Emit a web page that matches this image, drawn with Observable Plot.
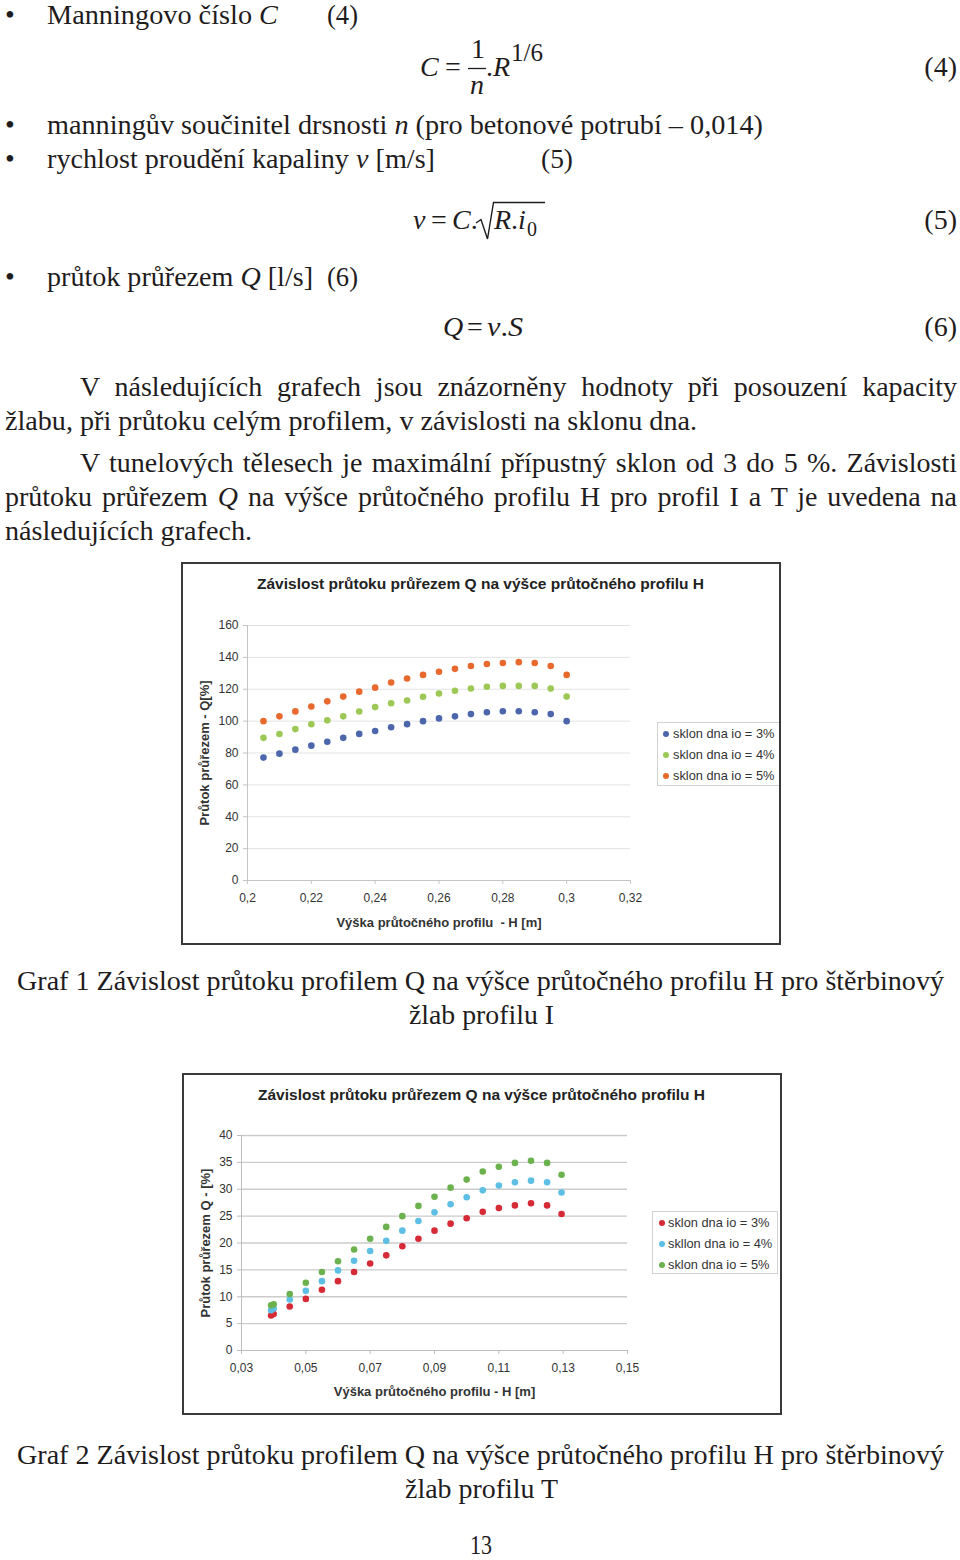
<!DOCTYPE html>
<html lang="cs">
<head>
<meta charset="utf-8">
<script src="https://cdn.jsdelivr.net/npm/d3@7"></script>
<script src="https://cdn.jsdelivr.net/npm/@observablehq/plot@0.6"></script>
<style>
html,body{margin:0;padding:0;background:#fff;}
#page{position:relative;width:960px;height:1560px;overflow:hidden;background:#fff;}
#text{position:absolute;left:0;top:0;}
.chart{position:absolute;}
.chart svg{display:block;overflow:visible;}
.frame{position:absolute;box-sizing:border-box;border:2px solid #3a3a3a;pointer-events:none;}
.ctitle{position:absolute;text-align:center;font:bold 15.5px "Liberation Sans",Arial,sans-serif;color:#222;white-space:pre;line-height:18px;}
.legend{position:absolute;box-sizing:border-box;border:1px solid #d2d2d2;background:#fff;font:12.8px "Liberation Sans",Arial,sans-serif;color:#333;}
.legend .lt{position:absolute;white-space:pre;line-height:16px;}
.legend .ld{position:absolute;width:6px;height:6px;border-radius:50%;}
[aria-label$="axis label"]{font-weight:bold;font-size:13px;}
</style>
</head>
<body>
<div id="page"></div>
<script>
// ---------------- data ----------------
// Graf 1 (profil I)
const h1 = [0.205,0.21,0.215,0.22,0.225,0.23,0.235,0.24,0.245,0.25,0.255,0.26,0.265,0.27,0.275,0.28,0.285,0.29,0.295,0.30];
const q1_3 = [77.1,79.6,82.1,84.6,87.1,89.5,92.0,93.8,96.2,98.1,100,101.7,103.0,104.4,105.6,106.2,106.2,105.6,104.4,100];
const q1_4 = [89.5,91.9,95.0,98.0,100.5,103.0,106.0,108.8,111.2,112.9,115.3,117.3,119.1,120.5,121.6,122.1,122.1,122.1,120.4,115.4];
const q1_5 = [100,103.0,106.1,109.2,112.4,115.4,118.5,121.0,124.2,126.7,129.0,131.0,132.8,134.6,135.8,136.5,137.0,136.5,134.6,129.0];
const series1 = ["sklon dna io = 3%","sklon dna io = 4%","sklon dna io = 5%"];
const colors1 = ["#4c66ab","#9cc955","#e8692d"];
const xTicks1 = [0.2,0.22,0.24,0.26,0.28,0.3,0.32];
const yTicks1 = [0,20,40,60,80,100,120,140,160];

// Graf 2 (profil T)
const h2 = [0.0392,0.04,0.045,0.05,0.055,0.06,0.065,0.07,0.075,0.08,0.085,0.09,0.095,0.10,0.105,0.11,0.115,0.12,0.125,0.1295];
const q2_3 = [6.5,6.8,8.2,9.6,11.3,12.9,14.6,16.2,17.7,19.4,20.8,22.3,23.6,24.6,25.8,26.5,27.0,27.4,27.0,25.4];
const q2_4 = [7.5,7.8,9.5,11.1,12.9,14.9,16.7,18.5,20.4,22.3,24.1,25.7,27.2,28.5,29.8,30.7,31.3,31.6,31.3,29.4];
const q2_5 = [8.4,8.6,10.5,12.6,14.6,16.6,18.8,20.8,23.0,25.0,26.9,28.6,30.3,31.8,33.3,34.2,34.9,35.3,34.9,32.7];
const series2 = ["sklon dna io = 3%","skllon dna io = 4%","sklon dna io = 5%"];
const colors2 = ["#d62a36","#5dbfe3","#6bb24f"];
const xTicks2 = [0.03,0.05,0.07,0.09,0.11,0.13,0.15];
const yTicks2 = [0,5,10,15,20,25,30,35,40];

const chartTitle = "Závislost průtoku průřezem Q na výšce průtočného profilu H";
const xLabel1 = "Výška průtočného profilu  - H [m]";
const yLabel1 = "Průtok průřezem - Q[%]";
const xLabel2 = "Výška průtočného profilu - H [m]";
const yLabel2 = "Průtok průřezem Q - [%]";

// ---------------- page text ----------------
const page = document.getElementById("page");
const NS = "http://www.w3.org/2000/svg";
const tsvg = document.createElementNS(NS, "svg");
tsvg.setAttribute("id", "text");
tsvg.setAttribute("width", 960);
tsvg.setAttribute("height", 1560);
page.appendChild(tsvg);
const SERIF = '"Liberation Serif","Times New Roman",serif';
const INK = "#1f1c1d";

function line(parts, x, y, opts = {}) {
  const t = document.createElementNS(NS, "text");
  t.setAttribute("x", x);
  t.setAttribute("y", y);
  t.setAttribute("font-family", SERIF);
  t.setAttribute("font-size", opts.size || 28);
  t.setAttribute("fill", INK);
  if (opts.anchor) t.setAttribute("text-anchor", opts.anchor);
  t.style.whiteSpace = "pre";
  if (typeof parts === "string") parts = [[parts]];
  for (const [s, st] of parts) {
    const ts = document.createElementNS(NS, "tspan");
    ts.textContent = s;
    if (st === "i") ts.setAttribute("font-style", "italic");
    t.appendChild(ts);
  }
  tsvg.appendChild(t);
  if (opts.w) {
    if (opts.justify) {
      const nat = t.getComputedTextLength();
      const n = (t.textContent.match(/ /g) || []).length;
      t.style.wordSpacing = ((opts.w - nat) / n) + "px";
    } else {
      t.setAttribute("textLength", opts.w);
      t.setAttribute("lengthAdjust", "spacingAndGlyphs");
    }
  }
  return t;
}
function path(d, sw) {
  const p = document.createElementNS(NS, "path");
  p.setAttribute("d", d);
  p.setAttribute("fill", "none");
  p.setAttribute("stroke", INK);
  p.setAttribute("stroke-width", sw || 1.3);
  tsvg.appendChild(p);
}

// bullets
for (const by of [24, 134, 168, 286]) line("•", 5, by);
line([["Manningovo číslo "], ["C", "i"]], 47, 24, {w: 231});
line("(4)", 327, 24, {w: 31});
// formula 4
line([["C", "i"]], 420, 76);
line("=", 445, 76);
line("1", 471, 58);
path("M468,68.5H486");
line([["n", "i"]], 470, 94);
line([["."], ["R", "i"]], 486, 76);
line("1/6", 511, 61, {size: 25});
line("(4)", 957, 76, {anchor: "end"});

line([["manningův součinitel drsnosti "], ["n", "i"], [" (pro betonové potrubí – 0,014)"]], 47, 134, {w: 716});
line([["rychlost proudění kapaliny "], ["v", "i"], [" [m/s]"]], 47, 168, {w: 388});
line("(5)", 541, 168, {w: 32});
// formula 5
line([["v", "i"]], 413, 229);
line("=", 431, 229);
line([["C", "i"], ["."]], 452, 229);
path("M476,223L481,219.5L487.5,239L493.5,202.5H545", 1.4);
line([["R", "i"], ["."], ["i", "i"]], 494, 229);
line("0", 527, 236, {size: 20});
line("(5)", 957, 229, {anchor: "end"});

line([["průtok průřezem "], ["Q", "i"], [" [l/s]"]], 47, 286, {w: 266});
line("(6)", 327, 286, {w: 31});
// formula 6
line([["Q", "i"]], 443, 336);
line("=", 467, 336);
line([["v", "i"], ["."], ["S", "i"]], 487, 336, {w: 36});
line("(6)", 957, 336, {anchor: "end"});

line("V následujících grafech jsou znázorněny hodnoty při posouzení kapacity", 80, 396, {w: 877, justify: true});
line("žlabu, při průtoku celým profilem, v závislosti na sklonu dna.", 5, 430, {w: 692});
line("V tunelových tělesech je maximální přípustný sklon od 3 do 5 %. Závislosti", 80, 472, {w: 877, justify: true});
line([["průtoku průřezem "], ["Q", "i"], [" na výšce průtočného profilu H pro profil I a T je uvedena na"]], 5, 506, {w: 952, justify: true});
line("následujících grafech.", 5, 540, {w: 247});

line("Graf 1 Závislost průtoku profilem Q na výšce průtočného profilu H pro štěrbinový", 17, 990, {w: 927});
line("žlab profilu I", 409, 1024, {w: 145});
line("Graf 2 Závislost průtoku profilem Q na výšce průtočného profilu H pro štěrbinový", 17, 1464, {w: 927});
line("žlab profilu T", 405, 1498, {w: 153});
line("13", 470, 1554, {w: 22, size: 27});

// ---------------- charts ----------------
const fmt = d => String(d).replace(".", ",");

function makeChart(cfg) {
  const data = cfg.names.flatMap((s, i) => cfg.h.map((x, j) => ({H: x, Q: cfg.ys[i][j], s})));
  const wrap = document.createElement("div");
  wrap.className = "chart";
  wrap.style.left = cfg.left + "px";
  wrap.style.top = cfg.top + "px";
  wrap.style.width = cfg.W + "px";
  wrap.style.height = cfg.H + "px";
  const svg = Plot.plot({
    width: cfg.W, height: cfg.H,
    marginLeft: cfg.m[3], marginRight: cfg.m[1], marginTop: cfg.m[0], marginBottom: cfg.m[2],
    style: {fontFamily: '"Liberation Sans", Arial, sans-serif', fontSize: "12px", background: "transparent", color: "#333"},
    x: {domain: cfg.xDomain},
    y: {domain: cfg.yDomain},
    color: {domain: cfg.names, range: cfg.colors},
    marks: [
      Plot.ruleY(cfg.yTicks.filter(d => d > 0), {stroke: cfg.grid, strokeWidth: cfg.gridW}),
      Plot.ruleX([cfg.xDomain[0]], {stroke: cfg.axis}),
      Plot.ruleY([0], {stroke: cfg.axis}),
      Plot.axisX({ticks: cfg.xTicks, tickFormat: fmt, tickSize: 4, tickPadding: 9, stroke: cfg.axis, fill: "#333",
        label: cfg.xLabel, labelAnchor: "center", labelOffset: cfg.xlo, labelArrow: "none"}),
      Plot.axisY({ticks: cfg.yTicks, tickSize: 4, tickPadding: 5, stroke: cfg.axis, fill: "#333",
        label: cfg.yLabel, labelAnchor: "center", labelOffset: cfg.ylo, labelArrow: "none"}),
      Plot.dot(data, {x: "H", y: "Q", fill: "s", r: 3.3})
    ]
  });
  wrap.appendChild(svg);
  const title = document.createElement("div");
  title.className = "ctitle";
  title.style.left = "0px";
  title.style.width = cfg.W + "px";
  title.style.top = (cfg.titleY - 9) + "px";
  title.textContent = chartTitle;
  wrap.appendChild(title);
  page.appendChild(wrap);

  const frame = document.createElement("div");
  frame.className = "frame";
  Object.assign(frame.style, {left: cfg.left + "px", top: cfg.top + "px", width: (cfg.W + 1) + "px", height: (cfg.H + 1) + "px"});

  const lg = document.createElement("div");
  lg.className = "legend";
  Object.assign(lg.style, {left: cfg.lg[0] + "px", top: cfg.lg[1] + "px", width: cfg.lg[2] + "px", height: cfg.lg[3] + "px"});
  cfg.names.forEach((s, i) => {
    const cy = 11 + i * 21;
    const d = document.createElement("div");
    d.className = "ld";
    d.style.background = cfg.colors[i];
    d.style.left = (cfg.dotX - 3) + "px";
    d.style.top = (cy - 3) + "px";
    lg.appendChild(d);
    const t = document.createElement("div");
    t.className = "lt";
    t.style.left = cfg.textX + "px";
    t.style.top = (cy - 8) + "px";
    t.textContent = s;
    lg.appendChild(t);
  });
  page.appendChild(lg);
  page.appendChild(frame);
}

makeChart({
  h: h1, ys: [q1_3, q1_4, q1_5], names: series1, colors: colors1,
  xDomain: [0.2, 0.32], yDomain: [0, 160], xTicks: xTicks1, yTicks: yTicks1,
  xLabel: xLabel1, yLabel: yLabel1, xlo: 46, ylo: 48,
  left: 181, top: 562, W: 599, H: 382, m: [63, 150, 64, 66],
  grid: "#e3e3e3", gridW: 1, axis: "#c4c4c4", titleY: 22,
  lg: [657, 722, 123, 64], dotX: 8, textX: 15
});
makeChart({
  h: h2, ys: [q2_3, q2_4, q2_5], names: series2, colors: colors2,
  xDomain: [0.03, 0.15], yDomain: [0, 40], xTicks: xTicks2, yTicks: yTicks2,
  xLabel: xLabel2, yLabel: yLabel2, xlo: 45, ylo: 41,
  left: 182, top: 1073, W: 599, H: 341, m: [62, 154, 64, 59],
  grid: "#cbcbcb", gridW: 1.3, axis: "#bdbdbd", titleY: 22,
  lg: [652, 1211, 126, 63], dotX: 9, textX: 15
});
</script>
</body>
</html>
